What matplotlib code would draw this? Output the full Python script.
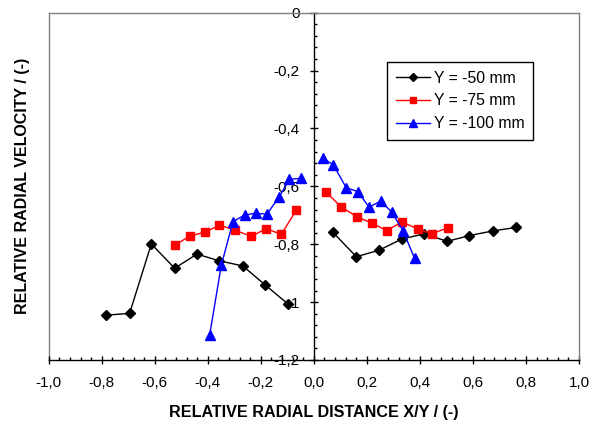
import matplotlib
matplotlib.use("Agg")
import matplotlib.pyplot as plt
from matplotlib.ticker import MultipleLocator, FuncFormatter

plt.rcParams['font.family'] = ['Liberation Sans', 'DejaVu Sans']

# Y = -50 mm
x_50 = [-0.783, -0.695, -0.613, -0.525, -0.441, -0.358, -0.268, -0.183, -0.097,
        None,
        0.072, 0.160, 0.245, 0.332, 0.417, 0.503, 0.587, 0.675, 0.763]
v_50 = [-1.045, -1.039, -0.799, -0.883, -0.834, -0.857, -0.875, -0.941, -1.007,
        None,
        -0.759, -0.843, -0.821, -0.782, -0.764, -0.790, -0.770, -0.754, -0.742]

# Y = -75 mm
x_75 = [-0.523, -0.469, -0.410, -0.356, -0.296, -0.236, -0.180, -0.123, -0.066,
        None,
        0.047, 0.102, 0.162, 0.219, 0.275, 0.332, 0.392, 0.446, 0.505]
v_75 = [-0.803, -0.772, -0.758, -0.734, -0.752, -0.773, -0.746, -0.766, -0.682,
        None,
        -0.621, -0.670, -0.705, -0.727, -0.753, -0.723, -0.747, -0.764, -0.743]

# Y = -100 mm
x_100 = [-0.393, -0.349, -0.305, -0.261, -0.220, -0.177, -0.132, -0.092, -0.048,
         None,
         0.034, 0.074, 0.122, 0.166, 0.208, 0.252, 0.294, 0.336, 0.380]
v_100 = [-1.114, -0.872, -0.722, -0.699, -0.693, -0.696, -0.638, -0.576, -0.572,
         None,
         -0.503, -0.526, -0.605, -0.618, -0.672, -0.651, -0.689, -0.753, -0.849]

labels = ["Y = -50 mm", "Y = -75 mm", "Y = -100 mm"]


def split(xs, ys):
    """Turn None separators into NaN so each side is drawn as its own line."""
    nan = float('nan')
    return ([nan if v is None else v for v in xs],
            [nan if v is None else v for v in ys])


fig = plt.figure(figsize=(6.03, 4.21), dpi=100)
ax = fig.add_axes([0.0808, 0.1449, 0.9602 - 0.0808, 0.9698 - 0.1449])

xa, ya = split(x_50, v_50)
ax.plot(xa, ya, color='black', lw=1.0, marker='D', ms=5, label=labels[0])
xa, ya = split(x_75, v_75)
ax.plot(xa, ya, color='#FF0000', lw=1.0, marker='s', ms=5.5, label=labels[1])
xa, ya = split(x_100, v_100)
ax.plot(xa, ya, color='#0000FF', lw=1.0, marker='^', ms=6.5, label=labels[2])

ax.set_xlim(-1.0, 1.0)
ax.set_ylim(-1.2, 0.0)

# Gray plot-area frame, vertical axis through x = 0
for side in ('top', 'right'):
    ax.spines[side].set_color('#808080')
    ax.spines[side].set_linewidth(1.0)
ax.spines['bottom'].set_color('black')
ax.spines['bottom'].set_linewidth(1.0)
ax.spines['left'].set_position(('data', 0.0))
ax.spines['left'].set_color('black')
ax.spines['left'].set_linewidth(1.0)
ax.axvline(-1.0, color='#808080', lw=1.0, zorder=0.5, clip_on=False)

ax.xaxis.set_major_locator(MultipleLocator(0.2))
ax.xaxis.set_minor_locator(MultipleLocator(0.04))
ax.yaxis.set_major_locator(MultipleLocator(0.2))
ax.yaxis.set_minor_locator(MultipleLocator(0.04))


def xfmt(v, pos):
    return f"{v:.1f}".replace('.', ',').replace('-0,0', '0,0')


def yfmt(v, pos):
    r = round(v, 1)
    if abs(r) < 1e-9:
        return "0"
    if abs(r - round(r)) < 1e-9:
        return f"{int(round(r))}"
    return f"{r:.1f}".replace('.', ',')


ax.xaxis.set_major_formatter(FuncFormatter(xfmt))
ax.yaxis.set_major_formatter(FuncFormatter(yfmt))

ax.tick_params(axis='both', which='major', direction='inout', length=5.5,
               width=1.0, color='black', labelsize=11)
ax.tick_params(axis='both', which='minor', direction='in', length=2.5,
               width=1.0, color='black')
ax.tick_params(axis='x', which='major', pad=8.5)
ax.tick_params(axis='y', which='major', pad=7.5)

ax.set_xlabel("RELATIVE RADIAL DISTANCE X/Y / (-)", fontsize=11.6,
              fontweight='bold', labelpad=11)
fig.text(0.037, (0.1449 + 0.9698) / 2, "RELATIVE RADIAL VELOCITY / (-)",
         rotation=90, ha='center', va='center', fontsize=11.5,
         fontweight='bold')

leg = ax.legend(loc='upper left', bbox_to_anchor=(387 / 603, 1 - 62 / 421),
                bbox_transform=fig.transFigure, fontsize=11.3, fancybox=False,
                framealpha=1, edgecolor='black', borderaxespad=0,
                handlelength=2.2, handletextpad=0.25, labelspacing=0.5,
                borderpad=0.55)
leg.get_frame().set_linewidth(1.0)
for h, ms in zip(leg.legend_handles, (4.2, 5, 5.5)):
    h.set_markersize(ms)

fig.savefig("out.png", dpi=100)
